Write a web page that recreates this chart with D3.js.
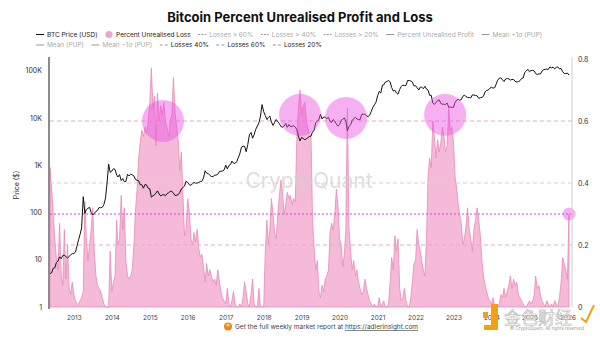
<!DOCTYPE html>
<html lang="en">
<head>
    <meta charset="UTF-8">
    <title>Bitcoin Percent Unrealised Profit and Loss</title>
    <script src="https://d3js.org/d3.v7.min.js"></script>
    <style>
        body { margin: 0; background: #fff; }
        svg { display: block; font-family: Inter, "Noto Sans", sans-serif; }
    </style>
</head>
<body>
<svg width="600" height="338"></svg>
<script>
// BTC price (USD), one value on the 1st and 16th of each month, from 2012-05-16 to 2026-01-16
var price = [
    5.1, 5.3, 6.6, 6.7, 8.7, 9.4, 11.5, 10.5, 12.3, 12.4, 11.7, 10.8, 11.8, 12.6, 13.4,
    13.5, 14.5, 20, 27, 34, 47, 215, 95, 115, 122, 128, 100, 88, 95, 105, 110, 128, 125, 128, 145, 200, 420, 1050, 700,
    750, 840, 810, 620, 560, 630, 470, 520, 445, 450, 640, 590, 640, 620, 590, 500, 475, 465, 385, 385, 325, 390, 380, 325,
    315, 210, 225, 235, 255, 285, 245, 222, 235, 237, 225, 250, 258, 280, 280, 255, 228, 230, 237, 262, 315, 335, 360, 455,
    430, 385, 375, 405, 430, 415, 417, 430, 450, 455, 535, 760, 675, 665, 605, 575, 575, 610, 615, 640, 730, 745, 750, 790,
    1000, 830, 985, 1030, 1220, 1100, 1085, 1180, 1420, 1730, 2400, 2500, 2500, 1920, 2720, 4350, 4900, 3700, 4380, 5700, 6700, 7800, 10900, 19000,
    13400, 11200, 9200, 10200, 10900, 8200, 6900, 8000, 9200, 8300, 7500, 6500, 6350, 6700, 7600, 6300, 7200, 6500, 6600, 6800, 6350, 5600, 4100, 3250,
    3850, 3650, 3450, 3600, 3800, 4000, 4100, 5100, 5350, 7900, 8550, 9200, 11900, 9450, 10400, 10300, 9600, 10270, 8300, 8000, 9150, 8500, 7400, 6650,
    7200, 8800, 9350, 9900, 8550, 5300, 6650, 7100, 8800, 9650, 10200, 9450, 9220, 9120, 11800, 11900, 11900, 10950, 10600, 11300, 13750, 16700, 18800, 21300,
    29400, 36000, 33500, 49200, 49600, 56800, 58800, 61300, 57800, 43500, 36700, 38300, 33500, 31500, 39800, 45900, 48800, 48000, 48200, 61500, 61300, 60100, 57000, 47600,
    47700, 43100, 38700, 44600, 44400, 41100, 46300, 40400, 38500, 29800, 29800, 20400, 19300, 20800, 23300, 23900, 20100, 19400, 19300, 19200, 20500, 16600, 17000, 16600,
    16600, 21200, 23700, 24600, 23600, 24300, 28500, 30300, 28000, 27000, 26800, 26300, 30600, 30200, 29700, 29100, 25800, 26600, 27000, 28500, 35400, 37800, 38700, 42200,
    44200, 42500, 43100, 52000, 62400, 68400, 69700, 63400, 58300, 66200, 67500, 66600, 62700, 64800, 64600, 58900, 57300, 58200, 60800, 67600, 69400, 90600, 97200, 106100,
    94400, 99900, 100600, 97500, 86000, 82600, 85200, 84000, 96500, 103500, 105700, 106800, 105700, 119000, 113300, 117500, 109200, 116700, 118600, 108200, 110100, 94500, 86500, 86000,
    88000, 80000
];

// Percent unrealised loss, same dates as price
var pul = [
    0.45, 0.38, 0.30, 0.22, 0.16, 0.12, 0.27, 0.10, 0.07, 0.25, 0.09, 0.20, 0.06, 0.04, 0.08,
    0.04, 0.02, 0.01, 0.01, 0.02, 0.03, 0.05, 0.34, 0.22, 0.15, 0.20, 0.25, 0.32, 0.18, 0.10, 0.07, 0.06, 0.05, 0.03, 0.01, 0.00, 0.00, 0.00, 0.18,
    0.05, 0.08, 0.10, 0.28, 0.20, 0.22, 0.36, 0.25, 0.32, 0.15, 0.10, 0.09, 0.10, 0.12, 0.20, 0.31, 0.38, 0.48, 0.53, 0.57, 0.55, 0.58, 0.56, 0.60,
    0.66, 0.77, 0.64, 0.68, 0.52, 0.69, 0.60, 0.65, 0.62, 0.66, 0.60, 0.58, 0.55, 0.60, 0.62, 0.74, 0.63, 0.58, 0.54, 0.44, 0.50, 0.36, 0.23, 0.25,
    0.35, 0.31, 0.22, 0.20, 0.24, 0.21, 0.25, 0.19, 0.16, 0.17, 0.13, 0.08, 0.14, 0.10, 0.12, 0.10, 0.08, 0.09, 0.07, 0.12, 0.08, 0.05, 0.03, 0.02,
    0.01, 0.06, 0.01, 0.00, 0.02, 0.05, 0.01, 0.00, 0.00, 0.01, 0.00, 0.03, 0.08, 0.05, 0.01, 0.00, 0.04, 0.09, 0.01, 0.00, 0.00, 0.06, 0.00, 0.00,
    0.00, 0.18, 0.28, 0.20, 0.25, 0.35, 0.30, 0.24, 0.22, 0.30, 0.36, 0.41, 0.37, 0.30, 0.33, 0.37, 0.35, 0.36, 0.33, 0.35, 0.34, 0.55, 0.64, 0.70,
    0.62, 0.65, 0.66, 0.60, 0.58, 0.56, 0.55, 0.28, 0.19, 0.12, 0.15, 0.05, 0.03, 0.07, 0.05, 0.09, 0.10, 0.12, 0.24, 0.27, 0.25, 0.30, 0.38, 0.33,
    0.22, 0.20, 0.13, 0.17, 0.25, 0.64, 0.25, 0.18, 0.12, 0.15, 0.10, 0.12, 0.08, 0.06, 0.04, 0.05, 0.09, 0.06, 0.04, 0.02, 0.01, 0.00, 0.01, 0.00,
    0.00, 0.03, 0.00, 0.01, 0.02, 0.00, 0.00, 0.01, 0.08, 0.16, 0.12, 0.23, 0.18, 0.22, 0.06, 0.02, 0.03, 0.06, 0.02, 0.00, 0.00, 0.03, 0.08, 0.14,
    0.15, 0.25, 0.20, 0.18, 0.15, 0.12, 0.10, 0.22, 0.42, 0.48, 0.45, 0.60, 0.55, 0.48, 0.54, 0.50, 0.53, 0.58, 0.55, 0.50, 0.52, 0.64, 0.57, 0.58,
    0.53, 0.42, 0.38, 0.33, 0.30, 0.27, 0.20, 0.22, 0.26, 0.32, 0.25, 0.22, 0.18, 0.25, 0.28, 0.32, 0.28, 0.23, 0.15, 0.10, 0.07, 0.05, 0.03, 0.02,
    0.01, 0.03, 0.00, 0.00, 0.00, 0.01, 0.04, 0.03, 0.06, 0.03, 0.05, 0.07, 0.10, 0.06, 0.09, 0.07, 0.08, 0.04, 0.03, 0.02, 0.01, 0.00, 0.00, 0.01,
    0.02, 0.01, 0.02, 0.04, 0.10, 0.06, 0.07, 0.04, 0.02, 0.01, 0.00, 0.02, 0.01, 0.00, 0.01, 0.00, 0.02, 0.01, 0.00, 0.03, 0.08, 0.16, 0.14, 0.12,
    0.09, 0.30
];

// Highlighted loss extremes
var markDates = ["2015-05-08", "2018-12-16", "2020-03-03", "2022-10-12", "2026-01-16"];
var markValues = [0.60, 0.62, 0.61, 0.62, 0.30];

// Loss thresholds and the mean line on the right axis
var lossLevels = [0.6, 0.4, 0.2];
var meanLevel = 0.3;

// Tick labels
var priceTicks = [1, 10, 100, 1000, 10000, 100000];
var priceTickLabels = ["1", "10", "100", "1K", "10K", "100K"];
var pulTicks = [0, 0.2, 0.4, 0.6, 0.8];

// Legend entries: [label, marker, active]
var legendRow1 = [
    ["BTC Price (USD)", "line", true],
    ["Percent Unrealised Loss", "dot", true],
    ["Losses > 60%", "dash3", false],
    ["Losses > 40%", "dash3", false],
    ["Losses > 20%", "dash3", false],
    ["Percent Unrealised Profit", "line", false],
    ["Mean +1\u03c3 (PUP)", "line", false]
];
var legendRow2 = [
    ["Mean (PUP)", "line", false],
    ["Mean \u22121\u03c3 (PUP)", "line", false],
    ["Losses 40%", "dash2", true],
    ["Losses 60%", "dash2", true],
    ["Losses 20%", "dash2", true]
];

function draw() {
var svg = d3.select("svg");
var pLeft = 50, pRight = 572, pTop = 59, pBottom = 307;

var dates = price.map(function (d, i) {
    return new Date(2012, 4 + Math.floor((i + 1) / 2), (i + 1) % 2 ? 16 : 1);
});

var x = d3.scaleTime()
    .domain([dates[0], dates[dates.length - 1]])
    .range([pLeft, 569]);
var yPrice = d3.scaleLog().domain([1, 175000]).range([pBottom, pTop]);
var yPul = d3.scaleLinear().domain([0, 0.8]).range([pBottom, pTop]);

// Title
svg.append("text")
    .attr("x", 300)
    .attr("y", 22)
    .attr("text-anchor", "middle")
    .attr("font-size", "13px")
    .attr("font-weight", 700)
    .attr("fill", "#111")
    .text("Bitcoin Percent Unrealised Profit and Loss");

// Legend
function drawLegend(items, ly) {
    var lx = 36;
    items.forEach(function (it) {
        var g = svg.append("g").attr("transform", "translate(" + lx + "," + ly + ")");
        var col = it[2] ? "#222" : "#aaa";
        if (it[1] == "dot") {
            g.append("circle").attr("cx", 4).attr("cy", 0).attr("r", 3.6).attr("fill", "#eea6cc");
        } else {
            g.append("line")
                .attr("x1", 0).attr("x2", 8).attr("y1", 0).attr("y2", 0)
                .attr("stroke", it[1] == "line" && it[2] ? "#111" : "#999")
                .attr("stroke-width", 1)
                .attr("stroke-dasharray", it[1] == "dash3" ? "2,1.2" : it[1] == "dash2" ? "3,2" : null);
        }
        var t = g.append("text")
            .attr("x", 11)
            .attr("y", 2.4)
            .attr("font-size", "6.5px")
            .attr("fill", col)
            .text(it[0]);
        lx += 11 + t.node().getComputedTextLength() + 7.5;
    });
}
drawLegend(legendRow1, 34.5);
drawLegend(legendRow2, 45);

// Percent unrealised loss area
var area = d3.area()
    .x(function (d, i) { return x(dates[i]); })
    .y0(yPul(0))
    .y1(function (d) { return yPul(d); });
svg.append("path")
    .datum(pul)
    .attr("d", area)
    .attr("fill", "#f5bad8")
    .attr("stroke", "#e68ab9")
    .attr("stroke-width", 0.8);

// Watermark
svg.append("text")
    .attr("x", 309)
    .attr("y", 188)
    .attr("text-anchor", "middle")
    .attr("font-size", "21px")
    .attr("fill", "#cfcfcf")
    .attr("fill-opacity", 0.7)
    .text("CryptoQuant");

// Threshold lines
svg.selectAll(".level")
    .data(lossLevels)
    .enter()
    .append("line")
    .attr("x1", pLeft).attr("x2", pRight)
    .attr("y1", function (d) { return yPul(d); })
    .attr("y2", function (d) { return yPul(d); })
    .attr("stroke", function (d) { return d == 0.4 ? "#e9c9c2" : "#e7abc3"; })
    .attr("stroke-width", 1)
    .attr("stroke-dasharray", "4,3");

svg.append("line")
    .attr("x1", pLeft).attr("x2", pRight)
    .attr("y1", yPul(meanLevel)).attr("y2", yPul(meanLevel))
    .attr("stroke", "#d54ad0")
    .attr("stroke-width", 1)
    .attr("stroke-dasharray", "2,2");

// BTC price line
var line = d3.line()
    .x(function (d, i) { return x(dates[i]); })
    .y(function (d) { return yPrice(d); });
svg.append("path")
    .datum(price)
    .attr("d", line)
    .attr("fill", "none")
    .attr("stroke", "#111")
    .attr("stroke-width", 1);

// Highlight circles
svg.selectAll(".mark")
    .data(markValues)
    .enter()
    .append("circle")
    .attr("cx", function (d, i) { return x(new Date(markDates[i])); })
    .attr("cy", function (d) { return yPul(d); })
    .attr("r", function (d) { return d > 0.5 ? 21 : 6.5; })
    .attr("fill", "#ec4fe3")
    .attr("fill-opacity", 0.45);

// Left axis
var leftAxis = svg.append("g")
    .attr("transform", "translate(" + pLeft + ",0)")
    .call(d3.axisLeft(yPrice)
        .tickValues(priceTicks)
        .tickSize(0)
        .tickPadding(8)
        .tickFormat(function (d, i) { return priceTickLabels[i]; }));
leftAxis.select(".domain").remove();
leftAxis.selectAll("text").attr("font-size", "7px").attr("fill", "#333").attr("font-family", "Inter");
svg.append("line")
    .attr("x1", 49).attr("x2", 49).attr("y1", 57).attr("y2", 309)
    .attr("stroke", "#8c8c8c").attr("stroke-width", 2);

// Left axis label
svg.append("text")
    .attr("transform", "translate(19,185) rotate(-90)")
    .attr("text-anchor", "middle")
    .attr("font-size", "7px")
    .attr("fill", "#333")
    .text("Price ($)");

// Right axis
var rightAxis = svg.append("g")
    .attr("transform", "translate(" + pRight + ",0)")
    .call(d3.axisRight(yPul)
        .tickValues(pulTicks)
        .tickSize(0)
        .tickPadding(6)
        .tickFormat(d3.format("~g")));
rightAxis.select(".domain").attr("stroke", "#d0d0d0").attr("d", "M0," + (pTop - 2) + "V" + pBottom);
rightAxis.selectAll("text").attr("font-size", "7px").attr("fill", "#333").attr("font-family", "Inter");

// Bottom axis
var xAxis = svg.append("g")
    .attr("transform", "translate(0," + pBottom + ")")
    .call(d3.axisBottom(x)
        .ticks(d3.timeYear.every(1))
        .tickSize(0)
        .tickPadding(8)
        .tickFormat(d3.timeFormat("%Y")));
xAxis.select(".domain").remove();
xAxis.selectAll("text").attr("font-size", "6.5px").attr("fill", "#444").attr("font-family", "Inter");

// Footer
svg.append("circle").attr("cx", 228).attr("cy", 326.5).attr("r", 4).attr("fill", "#f0861c");
svg.append("circle").attr("cx", 228).attr("cy", 325).attr("r", 1.6).attr("fill", "#fbd08a");
var foot = svg.append("text")
    .attr("x", 235)
    .attr("y", 329)
    .attr("font-size", "6.5px")
    .attr("fill", "#444");
foot.append("tspan").text("Get the full weekly market report at ");
foot.append("tspan").attr("text-decoration", "underline").text("https://adlerinsight.com");

svg.append("text")
    .attr("x", 510)
    .attr("y", 330)
    .attr("font-size", "4.5px")
    .attr("fill", "#999")
    .text("\u00a9 CryptoQuant. All rights reserved");

// Publisher mark
svg.append("rect").attr("x", 483).attr("y", 312).attr("width", 5).attr("height", 6).attr("fill", "#f3a012");
svg.append("path").attr("d", "M491,304 H498 V330 H484 V325 H491 Z").attr("fill", "#f3a012");
svg.append("text")
    .attr("x", 504)
    .attr("y", 324)
    .attr("font-size", "17px")
    .attr("font-family", "Noto Sans CJK SC")
    .attr("fill", "#fff")
    .attr("fill-opacity", 0.7)
    .attr("stroke", "#b5b5b5")
    .attr("stroke-width", 0.6)
    .text("金色财经");
svg.append("path").attr("d", "M581,318 L586,322 L594,305").attr("fill", "none").attr("stroke", "#f3a012").attr("stroke-width", 2);
}

draw();
</script>
</body>
</html>
